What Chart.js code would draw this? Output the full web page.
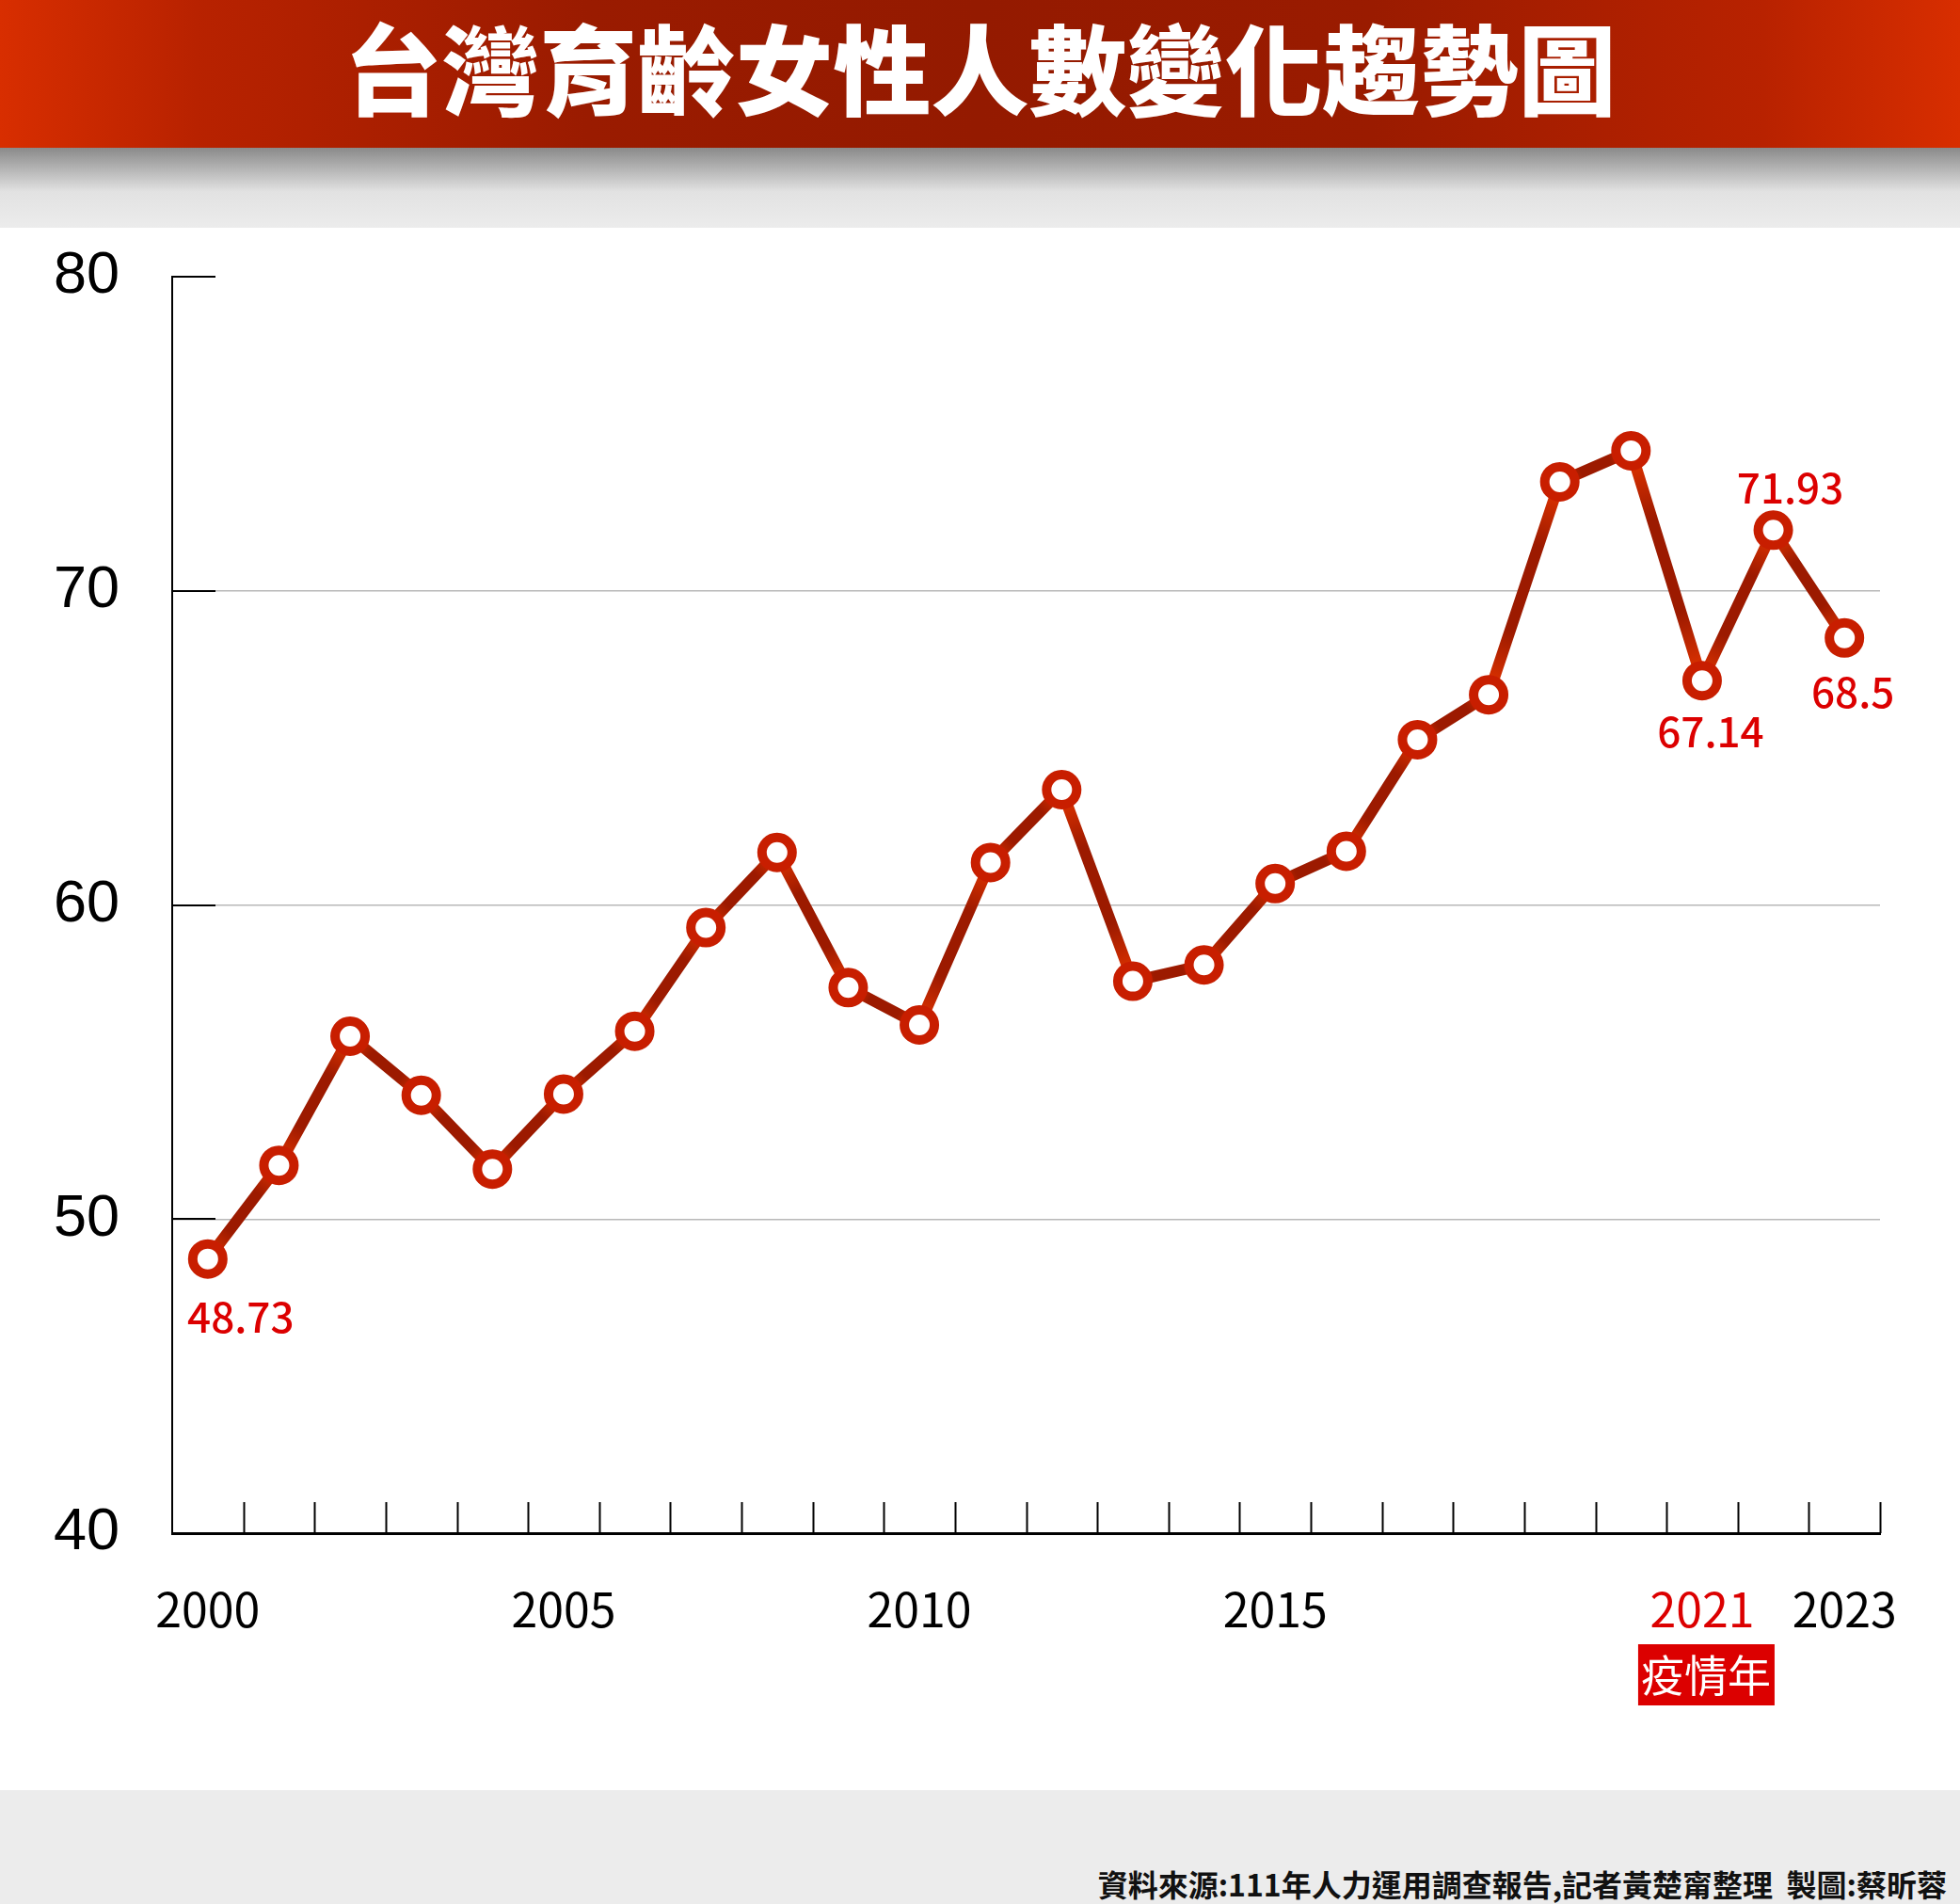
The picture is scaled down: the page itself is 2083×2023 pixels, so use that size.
<!DOCTYPE html>
<html lang="zh-Hant">
<head>
<meta charset="utf-8">
<title>台灣育齡女性人數變化趨勢圖</title>
<script src="https://cdn.jsdelivr.net/npm/chart.js@4.4.1/dist/chart.umd.min.js"></script>
<style>
  html, body { margin: 0; padding: 0; }
  body {
    width: 2083px; height: 2023px; position: relative; overflow: hidden;
    background: #fff; font-family: "Noto Sans CJK TC", sans-serif;
  }
  .band { position: absolute; left: 0; width: 2083px; }
  #header {
    top: 0; height: 157px;
    background: linear-gradient(to right, #d82e00 0%, #b82200 10%, #9a1b00 30%, #941a00 50%, #9a1b00 70%, #b82200 90%, #d82e00 100%);
  }
  #header h1 {
    margin: 0; color: #fff; text-align: center;
    font-size: 104px; font-weight: 900; line-height: 140px;
  }
  #shade { top: 157px; height: 85px; background: linear-gradient(#8a8a8a, #e2e2e2 55%, #ececec); }
  #chartBox { top: 242px; height: 1660px; }
  #footer { top: 1902px; height: 121px; background: #ececec; }
  #footer p {
    position: absolute; right: 14px; top: 79px; margin: 0; white-space: pre;
    font-size: 32px; line-height: 40px; font-weight: 700; color: #111;
  }
</style>
</head>
<body>
<div id="header" class="band"><h1>台灣育齡女性人數變化趨勢圖</h1></div>
<div id="shade" class="band"></div>
<div id="chartBox" class="band"><canvas id="trendChart" width="2083" height="1660"></canvas></div>
<div id="footer" class="band"><p>資料來源:111年人力運用調查報告,記者黃楚甯整理  製圖:蔡昕蓉</p></div>

<script>
const years = ["2000", "2001", "2002", "2003", "2004", "2005", "2006", "2007", "2008", "2009", "2010", "2011",
  "2012", "2013", "2014", "2015", "2016", "2017", "2018", "2019", "2020", "2021", "2022", "2023"];
const women = [48.73, 51.71, 55.82, 53.94, 51.59, 53.98, 55.98, 59.28, 61.67, 57.37, 56.18, 61.35,
  63.67, 57.57, 58.09, 60.68, 61.71, 65.26, 66.69, 73.47, 74.46, 67.14, 71.93, 68.5];
const shownYears = ["2000", "2005", "2010", "2015", "2021", "2023"];
const markedYears = ["2000", "2021", "2022", "2023"];
const yTicks = [40, 50, 60, 70, 80];
const pandemicYear = "2021";
const pandemicText = "疫情年";

const RED = "#dc0000";

const canvas = document.getElementById("trendChart");
const cctx = canvas.getContext("2d");

// bright near the points, darker in the middle of each segment
function segmentGradient(c) {
  const g = cctx.createLinearGradient(c.p0.x, c.p0.y, c.p1.x, c.p1.y);
  g.addColorStop(0, "#e83600");
  g.addColorStop(0.3, "#9c1a00");
  g.addColorStop(0.7, "#9c1a00");
  g.addColorStop(1, "#e83600");
  return g;
}

const marksPlugin = {
  id: "marks",
  beforeDatasetsDraw(chart) {
    const ctx = chart.ctx;
    const xs = chart.scales.x;
    const ys = chart.scales.y;
    ctx.save();
    ctx.strokeStyle = "#000";
    ctx.lineWidth = 2;
    // short ticks on the x axis at category boundaries
    for (let i = 0; i < years.length; i++) {
      const x = Math.round(xs.getPixelForValue(i + 0.5)) + 0.5;
      ctx.beginPath();
      ctx.moveTo(x, ys.bottom);
      ctx.lineTo(x, ys.bottom - 33);
      ctx.stroke();
    }
    // short ticks on the y axis
    yTicks.forEach(v => {
      const y = Math.round(ys.getPixelForValue(v));
      ctx.beginPath();
      ctx.moveTo(ys.right, y);
      ctx.lineTo(ys.right + 46, y);
      ctx.stroke();
    });
    ctx.restore();
  },
  afterDatasetsDraw(chart) {
    const ctx = chart.ctx;
    const meta = chart.getDatasetMeta(0);
    const xs = chart.scales.x;
    const offsets = { "2000": [35, 62], "2021": [9, 54], "2022": [18, -45], "2023": [9, 57] };
    ctx.save();
    ctx.font = "500 44px 'Noto Sans CJK TC'";
    ctx.fillStyle = RED;
    ctx.textAlign = "center";
    ctx.textBaseline = "middle";
    markedYears.forEach(yr => {
      const i = years.indexOf(yr);
      const pt = meta.data[i];
      const [dx, dy] = offsets[yr];
      ctx.fillText(String(women[i]), pt.x + dx, pt.y + dy);
    });

    // red tag under the pandemic year
    const cx = xs.getPixelForValue(years.indexOf(pandemicYear)) + 4;
    const top = xs.top + 118;
    ctx.fillStyle = RED;
    ctx.fillRect(cx - 72, top, 145, 65);
    ctx.fillStyle = "#fff";
    ctx.font = "400 46px 'Noto Sans CJK TC'";
    ctx.fillText(pandemicText, cx, top + 33);
    ctx.restore();
  }
};

new Chart(canvas, {
  type: "line",
  data: {
    labels: years,
    datasets: [{
      label: "育齡女性人數",
      data: women,
      borderWidth: 12,
      borderColor: "#a01c00",
      borderJoinStyle: "round",
      borderCapStyle: "round",
      tension: 0,
      clip: false,
      pointRadius: 16,
      pointHoverRadius: 16,
      pointBorderWidth: 10,
      pointBackgroundColor: "#fff",
      pointBorderColor: "#c81e00",
      segment: {
        borderColor: segmentGradient,
        // keeps every segment separate so each gets its own gradient
        borderDashOffset: c => c.p0DataIndex * 0.001
      }
    }]
  },
  options: {
    responsive: false,
    animation: false,
    layout: { padding: { left: 0, top: 52, right: 85, bottom: 0 } },
    plugins: {
      legend: { display: false },
      tooltip: { enabled: false }
    },
    scales: {
      x: {
        type: "category",
        offset: true,
        afterFit(scale) {
          scale.height = 273;
          scale.paddingLeft = 0;
          scale.paddingRight = 0;
        },
        grid: { display: false, drawTicks: false },
        border: { display: true, color: "#000", width: 3 },
        ticks: {
          autoSkip: false,
          maxRotation: 0,
          padding: 51,
          font: { family: "'Noto Sans CJK TC'", size: 50, weight: 400 },
          color: c => (years[c.index] === pandemicYear ? RED : "#000"),
          callback: (v, i) => (shownYears.includes(years[i]) ? years[i] : "")
        }
      },
      y: {
        min: 40,
        max: 80,
        afterFit(scale) {
          scale.width = 183;
          scale.paddingTop = 0;
          scale.paddingBottom = 0;
        },
        afterBuildTicks(scale) { scale.ticks = yTicks.map(v => ({ value: v })); },
        grid: {
          drawTicks: false,
          lineWidth: 1.5,
          color: c => (c.tick && c.tick.value > 40 && c.tick.value < 80 ? "#b8b8b8" : "rgba(0,0,0,0)")
        },
        border: { display: true, color: "#000", width: 2 },
        ticks: {
          padding: 56,
          font: { family: "'Liberation Sans'", size: 63 },
          color: "#000"
        }
      }
    }
  },
  plugins: [marksPlugin]
});
</script>
</body>
</html>
